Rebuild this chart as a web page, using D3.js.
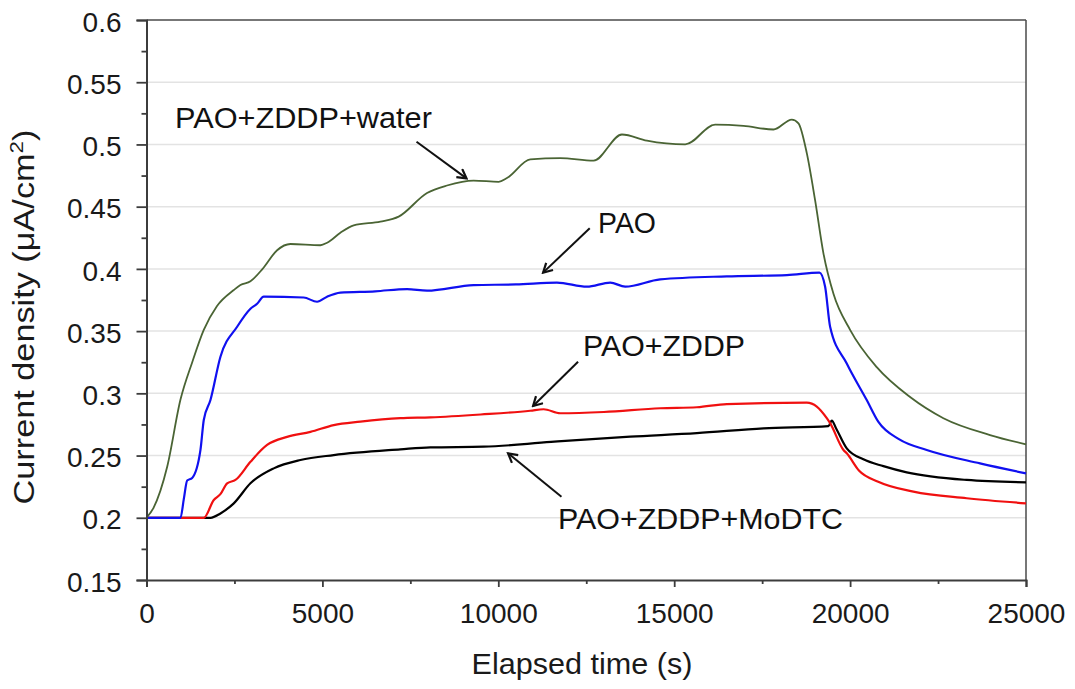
<!DOCTYPE html>
<html>
<head>
<meta charset="utf-8">
<script src="https://cdn.jsdelivr.net/npm/d3@7"></script>
<style>
  html, body { margin: 0; padding: 0; background: #fff; }
  svg { display: block; font-family: "Liberation Sans", Arial, sans-serif; }
</style>
</head>
<body>
<svg id="chart" width="1075" height="689"></svg>
<script>
// ---------------- data ----------------
const waterT = [0, 200, 588, 966, 1300, 1628, 2000, 2481, 2670, 2955, 3300, 3713, 4091, 4943, 5133, 5511, 5890, 6648, 7168, 7974, 8542, 9298, 10009, 10246, 10909, 11761, 12708, 13514, 14224, 15313, 16165, 16970, 17822, 18343, 18532, 18769, 19006, 19242, 19527, 20000, 20758, 21705, 22652, 23977, 25000];
const waterV = [0.200, 0.208, 0.241, 0.295, 0.325, 0.351, 0.370, 0.383, 0.387, 0.390, 0.400, 0.415, 0.420, 0.419, 0.421, 0.429, 0.435, 0.438, 0.442, 0.461, 0.467, 0.471, 0.470, 0.473, 0.488, 0.489, 0.487, 0.508, 0.503, 0.500, 0.516, 0.515, 0.512, 0.520, 0.517, 0.493, 0.455, 0.4125, 0.380, 0.351, 0.321, 0.297, 0.280, 0.2665, 0.259];

const paoT = [0, 966, 1060, 1156, 1298, 1534, 1628, 1818, 2102, 2576, 2955, 3144, 3333, 4469, 4849, 5133, 5511, 6500, 7405, 7974, 9298, 10500, 11667, 12519, 13182, 13608, 14602, 16496, 18201, 19129, 19290, 19432, 19905, 20473, 20805, 21400, 22178, 23693, 25000];
const paoV = [0.200, 0.200, 0.215, 0.230, 0.232, 0.2545, 0.2786, 0.2946, 0.3294, 0.3535, 0.368, 0.372, 0.3777, 0.377, 0.3736, 0.3777, 0.381, 0.382, 0.3838, 0.3825, 0.387, 0.3875, 0.389, 0.3857, 0.389, 0.3857, 0.3916, 0.394, 0.395, 0.397, 0.3857, 0.3535, 0.324, 0.2946, 0.2770, 0.2630, 0.2545, 0.2437, 0.2357];

const zddpT = [0, 1628, 1913, 2100, 2292, 2528, 2955, 3428, 3996, 4659, 5322, 6080, 7216, 8068, 9500, 10909, 11288, 11761, 13000, 14602, 15644, 16496, 18769, 19053, 19337, 19432, 19811, 19905, 20250, 20800, 21799, 23314, 25000];
const zddpV = [0.200, 0.200, 0.2143, 0.219, 0.2277, 0.2304, 0.245, 0.2585, 0.265, 0.269, 0.2745, 0.2772, 0.280, 0.2807, 0.283, 0.286, 0.2872, 0.284, 0.285, 0.288, 0.2888, 0.2914, 0.2925, 0.2893, 0.280, 0.276, 0.2545, 0.2518, 0.238, 0.229, 0.221, 0.2157, 0.2116];

const modtcT = [0, 1818, 2102, 2481, 2955, 3617, 4375, 5322, 7216, 8068, 9583, 11500, 13750, 15644, 17538, 19385, 19479, 19600, 19905, 20378, 20947, 21610, 23314, 25000];
const modtcV = [0.200, 0.200, 0.2035, 0.2116, 0.2277, 0.2397, 0.2464, 0.2504, 0.255, 0.2566, 0.2571, 0.261, 0.2652, 0.268, 0.2719, 0.2737, 0.278, 0.272, 0.2558, 0.2470, 0.2415, 0.2365, 0.2304, 0.2285];

const seriesNames = ["PAO+ZDDP+water", "PAO", "PAO+ZDDP", "PAO+ZDDP+MoDTC"];
const seriesColors = ["#4a6434", "#1010f0", "#f01010", "#000000"];

const yMajor = [0.15, 0.2, 0.25, 0.3, 0.35, 0.4, 0.45, 0.5, 0.55, 0.6];
const yMajorLabels = ["0.15", "0.2", "0.25", "0.3", "0.35", "0.4", "0.45", "0.5", "0.55", "0.6"];
const yMinor = [0.175, 0.225, 0.275, 0.325, 0.375, 0.425, 0.475, 0.525, 0.575];
const xMajor = [0, 5000, 10000, 15000, 20000, 25000];
const xMajorLabels = ["0", "5000", "10000", "15000", "20000", "25000"];
const xMinor = [2500, 7500, 12500, 17500, 22500];

// annotations: label anchor (t, v) and arrow from/to in data units
const annLabels = ["PAO+ZDDP+water", "PAO", "PAO+ZDDP", "PAO+ZDDP+MoDTC"];
const annLabelT = [810, 12835, 12409, 11699];
const annLabelV = [0.5132, 0.4288, 0.330, 0.191];
const annFromT = [7676, 12599, 12267, 11795];
const annFromV = [0.5022, 0.4326, 0.3254, 0.2169];
const annToT = [9097, 11273, 10989, 10278];
const annToV = [0.4727, 0.3970, 0.2898, 0.2518];

// ---------------- drawing ----------------
const svg = d3.select("#chart");
const L = 146.5, R = 1026, T = 20, B = 580;
const x = d3.scaleLinear().domain([0, 25000]).range([L, R]);
const y = d3.scaleLinear().domain([0.15, 0.6]).range([B, T]);

// gridlines
svg.append("g").selectAll("line").data(yMajor.filter(v => v > 0.15 && v < 0.6)).join("line")
  .attr("x1", L).attr("x2", R).attr("y1", d => y(d)).attr("y2", d => y(d))
  .attr("stroke", "#e3e3e3").attr("stroke-width", 1.5);

// top / right border
svg.append("line").attr("x1", L).attr("x2", R).attr("y1", T).attr("y2", T)
  .attr("stroke", "#4a4a4a").attr("stroke-width", 1.5);
svg.append("line").attr("x1", R).attr("x2", R).attr("y1", T).attr("y2", B)
  .attr("stroke", "#4a4a4a").attr("stroke-width", 1.5);

// series
const series = [
  [waterT, waterV], [paoT, paoV], [zddpT, zddpV], [modtcT, modtcV]
];
const line = d3.line().x(d => x(d[0])).y(d => y(d[1])).curve(d3.curveMonotoneX);
const drawOrder = [3, 2, 1, 0];
drawOrder.forEach(i => {
  const pts = series[i][0].map((t, k) => [t, series[i][1][k]]);
  svg.append("path").datum(pts)
    .attr("d", line)
    .attr("fill", "none")
    .attr("stroke", seriesColors[i])
    .attr("stroke-width", i === 0 ? 1.8 : 2.2)
    .attr("stroke-linejoin", "round");
});

// y axis
const yAxisG = svg.append("g").attr("transform", `translate(${L},0)`)
  .call(d3.axisLeft(y).tickValues(yMajor).tickSize(10).tickPadding(15)
    .tickFormat((d, i) => yMajorLabels[i]));
svg.append("g").attr("transform", `translate(${L},0)`)
  .call(d3.axisLeft(y).tickValues(yMinor).tickSize(5).tickFormat(""))
  .call(g => g.select(".domain").remove());

// x axis
const xAxisG = svg.append("g").attr("transform", `translate(0,${B})`)
  .call(d3.axisBottom(x).tickValues(xMajor).tickSize(7).tickPadding(16)
    .tickFormat((d, i) => xMajorLabels[i]));
svg.append("g").attr("transform", `translate(0,${B})`)
  .call(d3.axisBottom(x).tickValues(xMinor).tickSize(4).tickFormat(""))
  .call(g => g.select(".domain").remove());

svg.selectAll(".domain").attr("stroke", "#3c3c3c").attr("stroke-width", 2);
svg.selectAll(".tick line").attr("stroke", "#3c3c3c").attr("stroke-width", 1.8);
svg.selectAll(".tick text").attr("font-size", 28).attr("fill", "#1a1a1a")
  .attr("font-family", "'Liberation Sans', Arial, sans-serif");
yAxisG.selectAll(".tick text").attr("dy", "0.40em");

// helper to fit text width
function fitText(sel, target) {
  const w = sel.node().getComputedTextLength();
  return target / w;
}

// axis titles
const xt = svg.append("text").attr("font-size", 29).attr("fill", "#1a1a1a")
  .attr("text-anchor", "middle").text("Elapsed time (s)");
const sxX = fitText(xt, 221);
xt.attr("transform", `translate(582,674) scale(${sxX},1)`);

const yt = svg.append("text").attr("font-size", 29).attr("fill", "#1a1a1a")
  .attr("text-anchor", "middle");
yt.append("tspan").text("Current density (μA/cm");
yt.append("tspan").text("2").attr("font-size", 19).attr("dy", -11);
yt.append("tspan").text(")").attr("dy", 11);
const wY = yt.node().getBBox().width;
yt.attr("transform", `translate(34,317) rotate(-90) scale(${375 / wY},1)`);

// annotations
svg.append("defs").append("marker")
  .attr("id", "arrow").attr("viewBox", "0 0 12 12").attr("refX", 10).attr("refY", 6)
  .attr("markerWidth", 12).attr("markerHeight", 12).attr("markerUnits", "userSpaceOnUse")
  .attr("orient", "auto")
  .append("path").attr("d", "M1,1 L10,6 L1,11").attr("fill", "none")
  .attr("stroke", "#111").attr("stroke-width", 2.2);

const annWidths = [257, 58, 162, 285];
annLabels.forEach((lab, i) => {
  svg.append("line")
    .attr("x1", x(annFromT[i])).attr("y1", y(annFromV[i]))
    .attr("x2", x(annToT[i])).attr("y2", y(annToV[i]))
    .attr("stroke", "#111").attr("stroke-width", 2)
    .attr("marker-end", "url(#arrow)");
  const t = svg.append("text").attr("font-size", 29).attr("fill", "#111").text(lab);
  const s = fitText(t, annWidths[i]);
  t.attr("transform", `translate(${x(annLabelT[i])},${y(annLabelV[i])}) scale(${s},1)`);
});
</script>
</body>
</html>
